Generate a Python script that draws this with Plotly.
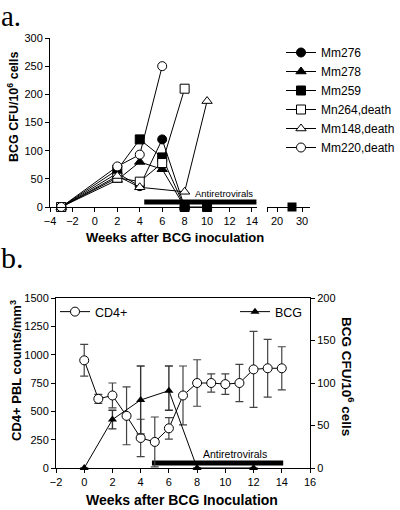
import plotly.graph_objects as go

W, H = 400, 510


def fx(p):
    return p / W


def fy(p):
    return 1 - p / H


# ---------------- Panel a data ----------------
mm276_wk = [-3, 2, 4, 6, 8]
mm276_cfu = [0, 60, 37, 120, 0]
mm278_wk = [-3, 2, 4, 6, 8]
mm278_cfu = [0, 48, 80, 67, 0]
mm259_wk = [-3, 2, 4, 6, 8, 10]
mm259_cfu = [0, 66, 120, 88, 0, 0]
mm259_late_wk = [26]
mm259_late_cfu = [0]
mn264_wk = [-3, 2, 4, 6, 8]
mn264_cfu = [0, 52, 45, 78, 210]
mm148_wk = [-3, 2, 4, 8, 10]
mm148_cfu = [0, 55, 35, 27, 188]
mm220_wk = [-3, 2, 4, 6]
mm220_cfu = [0, 72, 93, 250]
arv_a_wk = [4.4, 14.4]
arv_a_level = [9, 9]
late_ticks = [16, 20, 30]
late_labels = ["", "20", "30"]

# ---------------- Panel b data ----------------
cd4_wk = [0, 1, 2, 3, 4, 5, 6, 7, 8, 9, 10, 11, 12, 13, 14]
cd4_mean = [950, 610, 640, 460, 265, 230, 350, 640, 750, 750, 740, 750, 870, 880, 880]
cd4_err = [140, 40, 110, 255, 165, 220, 95, 260, 205, 80, 90, 165, 335, 255, 190]
bcg_wk = [0, 2, 4, 6, 8, 12]
bcg_cfu = [0, 57, 80, 91, 0, 0]
bcg_err_up = [0, 11, 40, 29, 0, 0]
bcg_err_down = [0, 11, 40, 23, 0, 0]
arv_b_wk = [4.8, 14.1]
arv_b_level = [44, 44]

FONT = "Liberation Sans, Arial, sans-serif"
SERIF = "Liberation Serif, Times New Roman, serif"

fig = go.Figure()

series_a = [
    ("Mm276", mm276_wk, mm276_cfu, "circle", "black"),
    ("Mm278", mm278_wk, mm278_cfu, "triangle-up", "black"),
    ("Mm259", mm259_wk, mm259_cfu, "square", "black"),
    ("Mn264,death", mn264_wk, mn264_cfu, "square", "white"),
    ("Mm148,death", mm148_wk, mm148_cfu, "triangle-up", "white"),
    ("Mm220,death", mm220_wk, mm220_cfu, "circle", "white"),
]
for name, xs, ys, sym, fill in series_a:
    fig.add_trace(go.Scatter(
        x=xs, y=ys, name=name, mode="lines+markers",
        line=dict(color="black", width=1),
        marker=dict(symbol=sym, size=9, color=fill,
                    line=dict(color="black", width=1)),
        xaxis="x", yaxis="y", cliponaxis=False, legend="legend",
    ))

fig.add_trace(go.Scatter(
    x=mm259_late_wk, y=mm259_late_cfu, mode="markers", showlegend=False,
    marker=dict(symbol="square", size=9, color="black"),
    xaxis="x2", yaxis="y2", cliponaxis=False,
))

fig.add_trace(go.Scatter(
    x=arv_a_wk, y=arv_a_level, mode="lines", showlegend=False,
    line=dict(color="black", width=5), xaxis="x", yaxis="y", cliponaxis=False,
))

# Panel b
fig.add_trace(go.Scatter(
    x=arv_b_wk, y=arv_b_level, mode="lines", showlegend=False,
    line=dict(color="black", width=5), xaxis="x3", yaxis="y3", cliponaxis=False,
))
fig.add_trace(go.Scatter(
    x=bcg_wk, y=bcg_cfu, name="BCG", mode="lines+markers",
    line=dict(color="black", width=1),
    marker=dict(symbol="triangle-up", size=8, color="black"),
    error_y=dict(type="data", array=bcg_err_up, arrayminus=bcg_err_down, symmetric=False,
                 color="#333", thickness=1.4, width=4),
    xaxis="x3", yaxis="y4", cliponaxis=False, legend="legend3",
))
fig.add_trace(go.Scatter(
    x=cd4_wk, y=cd4_mean, name="CD4+", mode="lines+markers",
    line=dict(color="black", width=1),
    marker=dict(symbol="circle", size=9, color="white", line=dict(color="black", width=1)),
    error_y=dict(type="data", array=cd4_err, color="#444", thickness=1.2, width=4),
    xaxis="x3", yaxis="y3", cliponaxis=False, legend="legend2",
))

tickfont = dict(family=FONT, size=11, color="black")
axis_common = dict(showline=True, linecolor="black", linewidth=1, ticks="outside",
                   ticklen=4, tickcolor="black", tickwidth=1, showgrid=False,
                   zeroline=False, tickfont=tickfont, automargin=False)

fig.update_layout(
    width=W, height=H, margin=dict(l=0, r=0, t=0, b=0, autoexpand=False),
    paper_bgcolor="white", plot_bgcolor="rgba(0,0,0,0)",
    font=dict(family=FONT, color="black"),
    xaxis=dict(domain=[fx(50), fx(257)], range=[-4, 14.45], tickvals=list(range(-4, 15, 2)),
               anchor="y", **axis_common),
    yaxis=dict(domain=[fy(207), fy(38)], range=[0, 300], tickvals=list(range(0, 301, 50)),
               anchor="x", **axis_common),
    xaxis2=dict(domain=[fx(267), fx(310)], range=[16, 33.2], tickvals=late_ticks,
                ticktext=late_labels, anchor="y2", **axis_common),
    yaxis2=dict(domain=[fy(207), fy(38)], range=[0, 300], visible=False, anchor="x2"),
    xaxis3=dict(domain=[fx(56), fx(310)], range=[-2, 16], tickvals=list(range(-2, 17, 2)),
                anchor="y3", mirror=True, **axis_common),
    yaxis3=dict(domain=[fy(468), fy(298)], range=[0, 1500], tickvals=list(range(0, 1501, 250)),
                anchor="x3", **axis_common),
    yaxis4=dict(range=[0, 200], tickvals=list(range(0, 201, 50)), overlaying="y3",
                side="right", anchor="x3", **axis_common),
    legend=dict(x=fx(281), y=fy(38), xanchor="left", yanchor="top", bgcolor="white",
                font=dict(family=FONT, size=12, color="black"), borderwidth=0,
                tracegroupgap=0),
    legend2=dict(x=fx(55), y=fy(297), xanchor="left", yanchor="top", bgcolor="rgba(0,0,0,0)",
                 font=dict(family=FONT, size=12.5, color="black")),
    legend3=dict(x=fx(308), y=fy(297), xanchor="right", yanchor="top", bgcolor="rgba(0,0,0,0)",
                 font=dict(family=FONT, size=12.5, color="black")),
    showlegend=True,
)

ann = [
    dict(text="a.", x=fx(0), y=fy(-1), xanchor="left", yanchor="top", borderpad=0,
         font=dict(family=SERIF, size=29)),
    dict(text="b.", x=fx(0), y=fy(240), xanchor="left", yanchor="top", borderpad=0,
         font=dict(family=SERIF, size=30)),
    dict(text="<b>BCG CFU/10<sup>6</sup> cells</b>", x=fx(13), y=fy(107), textangle=-90,
         xanchor="center", yanchor="middle", font=dict(family=FONT, size=12.5)),
    dict(text="<b>Weeks after BCG inoculation</b>", x=fx(175), y=fy(237),
         xanchor="center", yanchor="middle", font=dict(family=FONT, size=13)),
    dict(text="Antiretrovirals", x=fx(224), y=fy(193), xanchor="center", yanchor="middle",
         font=dict(family=FONT, size=9.5)),
    dict(text="<b>CD4+ PBL counts/mm<sup>3</sup></b>", x=fx(16), y=fy(371), textangle=-90,
         xanchor="center", yanchor="middle", font=dict(family=FONT, size=13)),
    dict(text="<b>BCG CFU/10<sup>6</sup> cells</b>", x=fx(348), y=fy(376), textangle=90,
         xanchor="center", yanchor="middle", font=dict(family=FONT, size=13.5)),
    dict(text="<b>Weeks after BCG Inoculation</b>", x=fx(182), y=fy(500),
         xanchor="center", yanchor="middle", font=dict(family=FONT, size=14)),
    dict(text="Antiretrovirals", x=fx(235), y=fy(454), xanchor="center", yanchor="middle",
         font=dict(family=FONT, size=10.5)),
]
for a in ann:
    a.update(xref="paper", yref="paper", showarrow=False)
fig.update_layout(annotations=ann)

fig.write_html("out.html", config={"displayModeBar": False},
               post_script="document.body.style.margin='0';")
